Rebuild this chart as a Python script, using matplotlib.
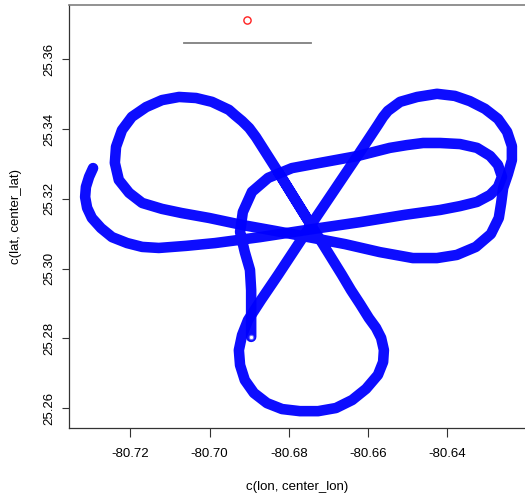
import matplotlib
matplotlib.use("Agg")
import matplotlib.pyplot as plt

plt.rcParams['font.family'] = ['Liberation Sans', 'DejaVu Sans']

# Survey track, first leg (open path): longitude / latitude
track_lon = [-80.7294, -80.7304, -80.7312, -80.7314, -80.7309, -80.7297, -80.7274,
             -80.7246, -80.7208, -80.7170, -80.7128, -80.7059, -80.6986, -80.6873,
             -80.6741, -80.6620, -80.6507, -80.6418, -80.6368, -80.6325, -80.6292,
             -80.6272, -80.6262, -80.6272, -80.6292, -80.6325, -80.6368, -80.6418,
             -80.6461, -80.6502, -80.6545, -80.6625, -80.6721, -80.6792, -80.6852,
             -80.6893, -80.6916, -80.6923, -80.6911, -80.6898, -80.6895, -80.6895,
             -80.6895]
track_lat = [25.3288, 25.3263, 25.3234, 25.3205, 25.3174, 25.3145, 25.3116,
             25.3090, 25.3073, 25.3062, 25.3059, 25.3065, 25.3073, 25.3090,
             25.3113, 25.3133, 25.3154, 25.3168, 25.3179, 25.3191, 25.3211,
             25.3234, 25.3263, 25.3297, 25.3323, 25.3346, 25.3357, 25.3360,
             25.3360, 25.3354, 25.3346, 25.3323, 25.3303, 25.3288, 25.3260,
             25.3220, 25.3162, 25.3105, 25.3047, 25.2996, 25.2938, 25.2873,
             25.2804]

# Survey track, three-lobed leg (closed path)
lobe_lon = [-80.6744, -80.6827, -80.6883, -80.6900, -80.6918, -80.6936, -80.6951,
            -80.6994, -80.7034, -80.7077, -80.7120, -80.7160, -80.7196, -80.7221,
            -80.7236, -80.7239, -80.7229, -80.7203, -80.7170, -80.7120, -80.7070,
            -80.7001, -80.6918, -80.6835, -80.6741, -80.6658, -80.6570, -80.6487,
            -80.6426, -80.6376, -80.6328, -80.6290, -80.6270, -80.6264, -80.6259,
            -80.6247, -80.6237, -80.6237, -80.6249, -80.6272, -80.6305, -80.6343,
            -80.6381, -80.6426, -80.6476, -80.6519, -80.6550, -80.6562, -80.6575,
            -80.6625, -80.6744, -80.6827, -80.6870, -80.6903, -80.6918, -80.6926,
            -80.6923, -80.6911, -80.6888, -80.6855, -80.6817, -80.6772, -80.6726,
            -80.6681, -80.6640, -80.6605, -80.6575, -80.6562, -80.6560, -80.6567,
            -80.6580, -80.6598, -80.6620, -80.6643, -80.6666, -80.6744, -80.6827]
lobe_lat = [25.3125, 25.3277, 25.3377, 25.3403, 25.3423, 25.3440, 25.3455,
            25.3478, 25.3489, 25.3492, 25.3483, 25.3463, 25.3435, 25.3397,
            25.3349, 25.3303, 25.3254, 25.3217, 25.3188, 25.3171, 25.3159,
            25.3145, 25.3125, 25.3108, 25.3088, 25.3070, 25.3047, 25.3030,
            25.3030, 25.3039, 25.3062, 25.3099, 25.3145, 25.3188, 25.3231,
            25.3271, 25.3311, 25.3351, 25.3392, 25.3429, 25.3458, 25.3480,
            25.3495, 25.3501, 25.3492, 25.3478, 25.3452, 25.3435, 25.3412,
            25.3326, 25.3125, 25.2982, 25.2910, 25.2852, 25.2809, 25.2766,
            25.2723, 25.2680, 25.2643, 25.2614, 25.2597, 25.2591, 25.2591,
            25.2600, 25.2623, 25.2655, 25.2695, 25.2732, 25.2766, 25.2801,
            25.2830, 25.2858, 25.2898, 25.2938, 25.2982, 25.3125, 25.3277]

center_lon = -80.6905
center_lat = 25.3713

# Reference segment above the track
segment_lon = [-80.7064, -80.6744]
segment_lat = [25.3648, 25.3648]

x_ticks = [-80.72, -80.70, -80.68, -80.66, -80.64]
x_labels = ["-80.72", "-80.70", "-80.68", "-80.66", "-80.64"]
y_ticks = [25.26, 25.28, 25.30, 25.32, 25.34, 25.36]
y_labels = ["25.26", "25.28", "25.30", "25.32", "25.34", "25.36"]

fig = plt.figure(figsize=(5.25, 4.98), dpi=100)
ax = fig.add_axes([69 / 525, 70 / 498, 456 / 525, 423 / 498])

blue = "#0000ff"
for lon, lat in ((lobe_lon, lobe_lat), (track_lon, track_lat)):
    ax.plot(lon, lat, color=blue, lw=7.6, solid_capstyle="round",
            solid_joinstyle="round", alpha=0.95)
ax.plot(track_lon[-1], track_lat[-1], "o", mfc="white", mec="#6a6aff",
        ms=3.2, mew=0.8)

ax.plot(segment_lon, segment_lat, color="#7f7f7f", lw=1.3)
ax.plot(center_lon, center_lat, "o", mfc="none", mec="#ff2020", ms=5.2, mew=1.0)

ax.set_xlim(-80.73547, -80.62039)
ax.set_ylim(25.25427, 25.37557)

ax.set_xticks(x_ticks)
ax.set_xticklabels(x_labels)
ax.set_yticks(y_ticks)
ax.set_yticklabels(y_labels, rotation=90, va="center")
ax.tick_params(axis="both", width=0.8, color="#333333", labelsize=9.5)
ax.tick_params(axis="x", length=6.5, pad=8)
ax.tick_params(axis="y", length=5, pad=4.5)

for side in ("left", "bottom"):
    ax.spines[side].set_color("#333333")
    ax.spines[side].set_linewidth(0.9)
ax.spines["top"].set_color("#7f7f7f")
ax.spines["top"].set_linewidth(1.2)
ax.spines["right"].set_visible(False)

ax.set_xlabel("c(lon, center_lon)", fontsize=9.5, labelpad=15)
ax.set_ylabel("c(lat, center_lat)", fontsize=9.5, labelpad=16)

fig.savefig("out.png", dpi=100)
